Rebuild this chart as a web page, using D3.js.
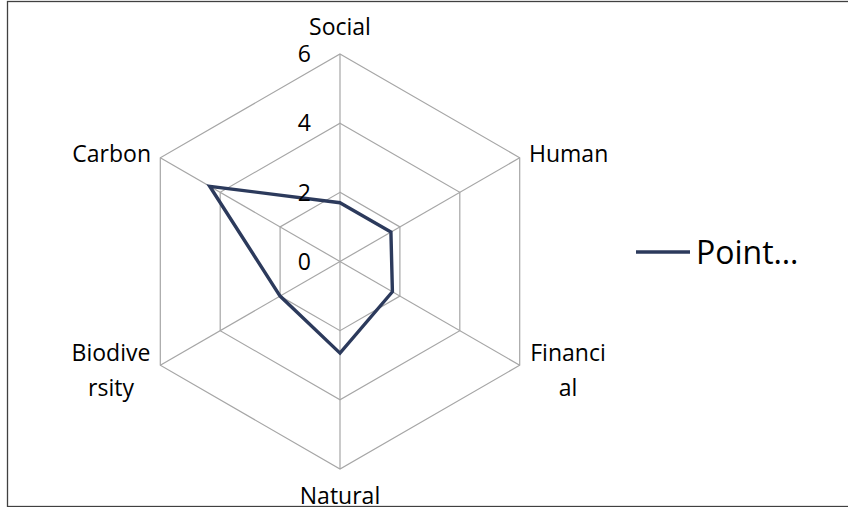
<!DOCTYPE html>
<html>
<head>
<meta charset="utf-8">
<script src="https://cdn.jsdelivr.net/npm/d3@7"></script>
<style>
  html, body { margin: 0; padding: 0; background: #fff; }
  svg { display: block; font-family: "Open Sans", sans-serif; }
</style>
</head>
<body>
<div id="chart"></div>
<script>
// chart data
const categories = ['Social', 'Human', 'Financial', 'Natural', 'Biodiversity', 'Carbon'];
// wrapped labels as they appear in the picture
const categoryLines = [['Social'], ['Human'], ['Financi', 'al'], ['Natural'], ['Biodive', 'rsity'], ['Carbon']];
const seriesName = 'Point…';
const seriesValues = [1.7, 1.7, 1.75, 2.65, 2.0, 4.35];
const ringTicks = [2, 4, 6];
const tickLabels = [0, 2, 4, 6];

const width = 848;
const height = 507;
const cx = 340; // centre of the radar
const cy = 261.5;
const radius = 207.5;

const svg = d3
  .select('#chart')
  .append('svg')
  .attr('width', width)
  .attr('height', height);

// frame (right edge runs off the picture)
svg.append('rect')
  .attr('x', 7.5)
  .attr('y', 1.5)
  .attr('width', width)
  .attr('height', 505)
  .attr('fill', 'none')
  .attr('stroke', '#404040')
  .attr('stroke-width', 1.3);

const r = d3.scaleLinear().domain([0, 6]).range([0, radius]);
const angle = d3.scalePoint()
  .domain(categories)
  .range([0, 2 * Math.PI * (categories.length - 1) / categories.length]);

const pt = (cat, v) => {
  const a = angle(cat) - Math.PI / 2;
  return [cx + r(v) * Math.cos(a), cy + r(v) * Math.sin(a)];
};

const g = svg.append('g');

// hexagonal rings
g.selectAll('path.ring')
  .data(ringTicks)
  .join('path')
  .attr('class', 'ring')
  .attr('d', (t) => d3.line()(categories.map((c) => pt(c, t))) + 'Z')
  .attr('fill', 'none')
  .attr('stroke', '#a6a6a6')
  .attr('stroke-width', 1.2);

// spokes
g.selectAll('line.spoke')
  .data(categories)
  .join('line')
  .attr('class', 'spoke')
  .attr('x1', cx)
  .attr('y1', cy)
  .attr('x2', (c) => pt(c, 6)[0])
  .attr('y2', (c) => pt(c, 6)[1])
  .attr('stroke', '#a6a6a6')
  .attr('stroke-width', 1.2);

// series line
g.append('path')
  .datum(seriesValues)
  .attr('d', (d) => d3.line()(d.map((v, i) => pt(categories[i], v))) + 'Z')
  .attr('fill', 'none')
  .attr('stroke', '#2c3a5c')
  .attr('stroke-width', 3.4)
  .attr('stroke-linejoin', 'miter');

// value labels along the top spoke
g.selectAll('text.tick')
  .data(tickLabels)
  .join('text')
  .attr('class', 'tick')
  .attr('x', cx - 29)
  .attr('y', (t) => cy - r(t))
  .attr('dy', '0.36em')
  .attr('text-anchor', 'end')
  .attr('font-size', 23)
  .attr('fill', '#000')
  .text((t) => t);

// category labels
const labelPos = {
  Social: { x: 340, y: 35, anchor: 'middle' },
  Human: { x: 529, y: 162, anchor: 'start' },
  Financial: { x: 568, y: 361, anchor: 'middle' },
  Natural: { x: 340, y: 504, anchor: 'middle' },
  Biodiversity: { x: 111, y: 361, anchor: 'middle' },
  Carbon: { x: 151, y: 162, anchor: 'end' },
};

const cl = g.selectAll('text.cat')
  .data(categories)
  .join('text')
  .attr('class', 'cat')
  .attr('x', (c) => labelPos[c].x)
  .attr('y', (c) => labelPos[c].y)
  .attr('text-anchor', (c) => labelPos[c].anchor)
  .attr('font-size', 23)
  .attr('fill', '#000');

cl.selectAll('tspan')
  .data((c, i) => categoryLines[i].map((s) => ({ s, c })))
  .join('tspan')
  .attr('x', (d) => labelPos[d.c].x)
  .attr('dy', (d, j) => (j === 0 ? 0 : 34.5))
  .text((d) => d.s);

// legend
const legend = svg.append('g').attr('transform', 'translate(636, 252)');
legend.append('line')
  .attr('x1', 0)
  .attr('x2', 54)
  .attr('stroke', '#2c3a5c')
  .attr('stroke-width', 3.4);
legend.append('text')
  .attr('x', 60)
  .attr('y', 11.5)
  .attr('font-size', 32)
  .attr('fill', '#000')
  .text(seriesName);
</script>
</body>
</html>
